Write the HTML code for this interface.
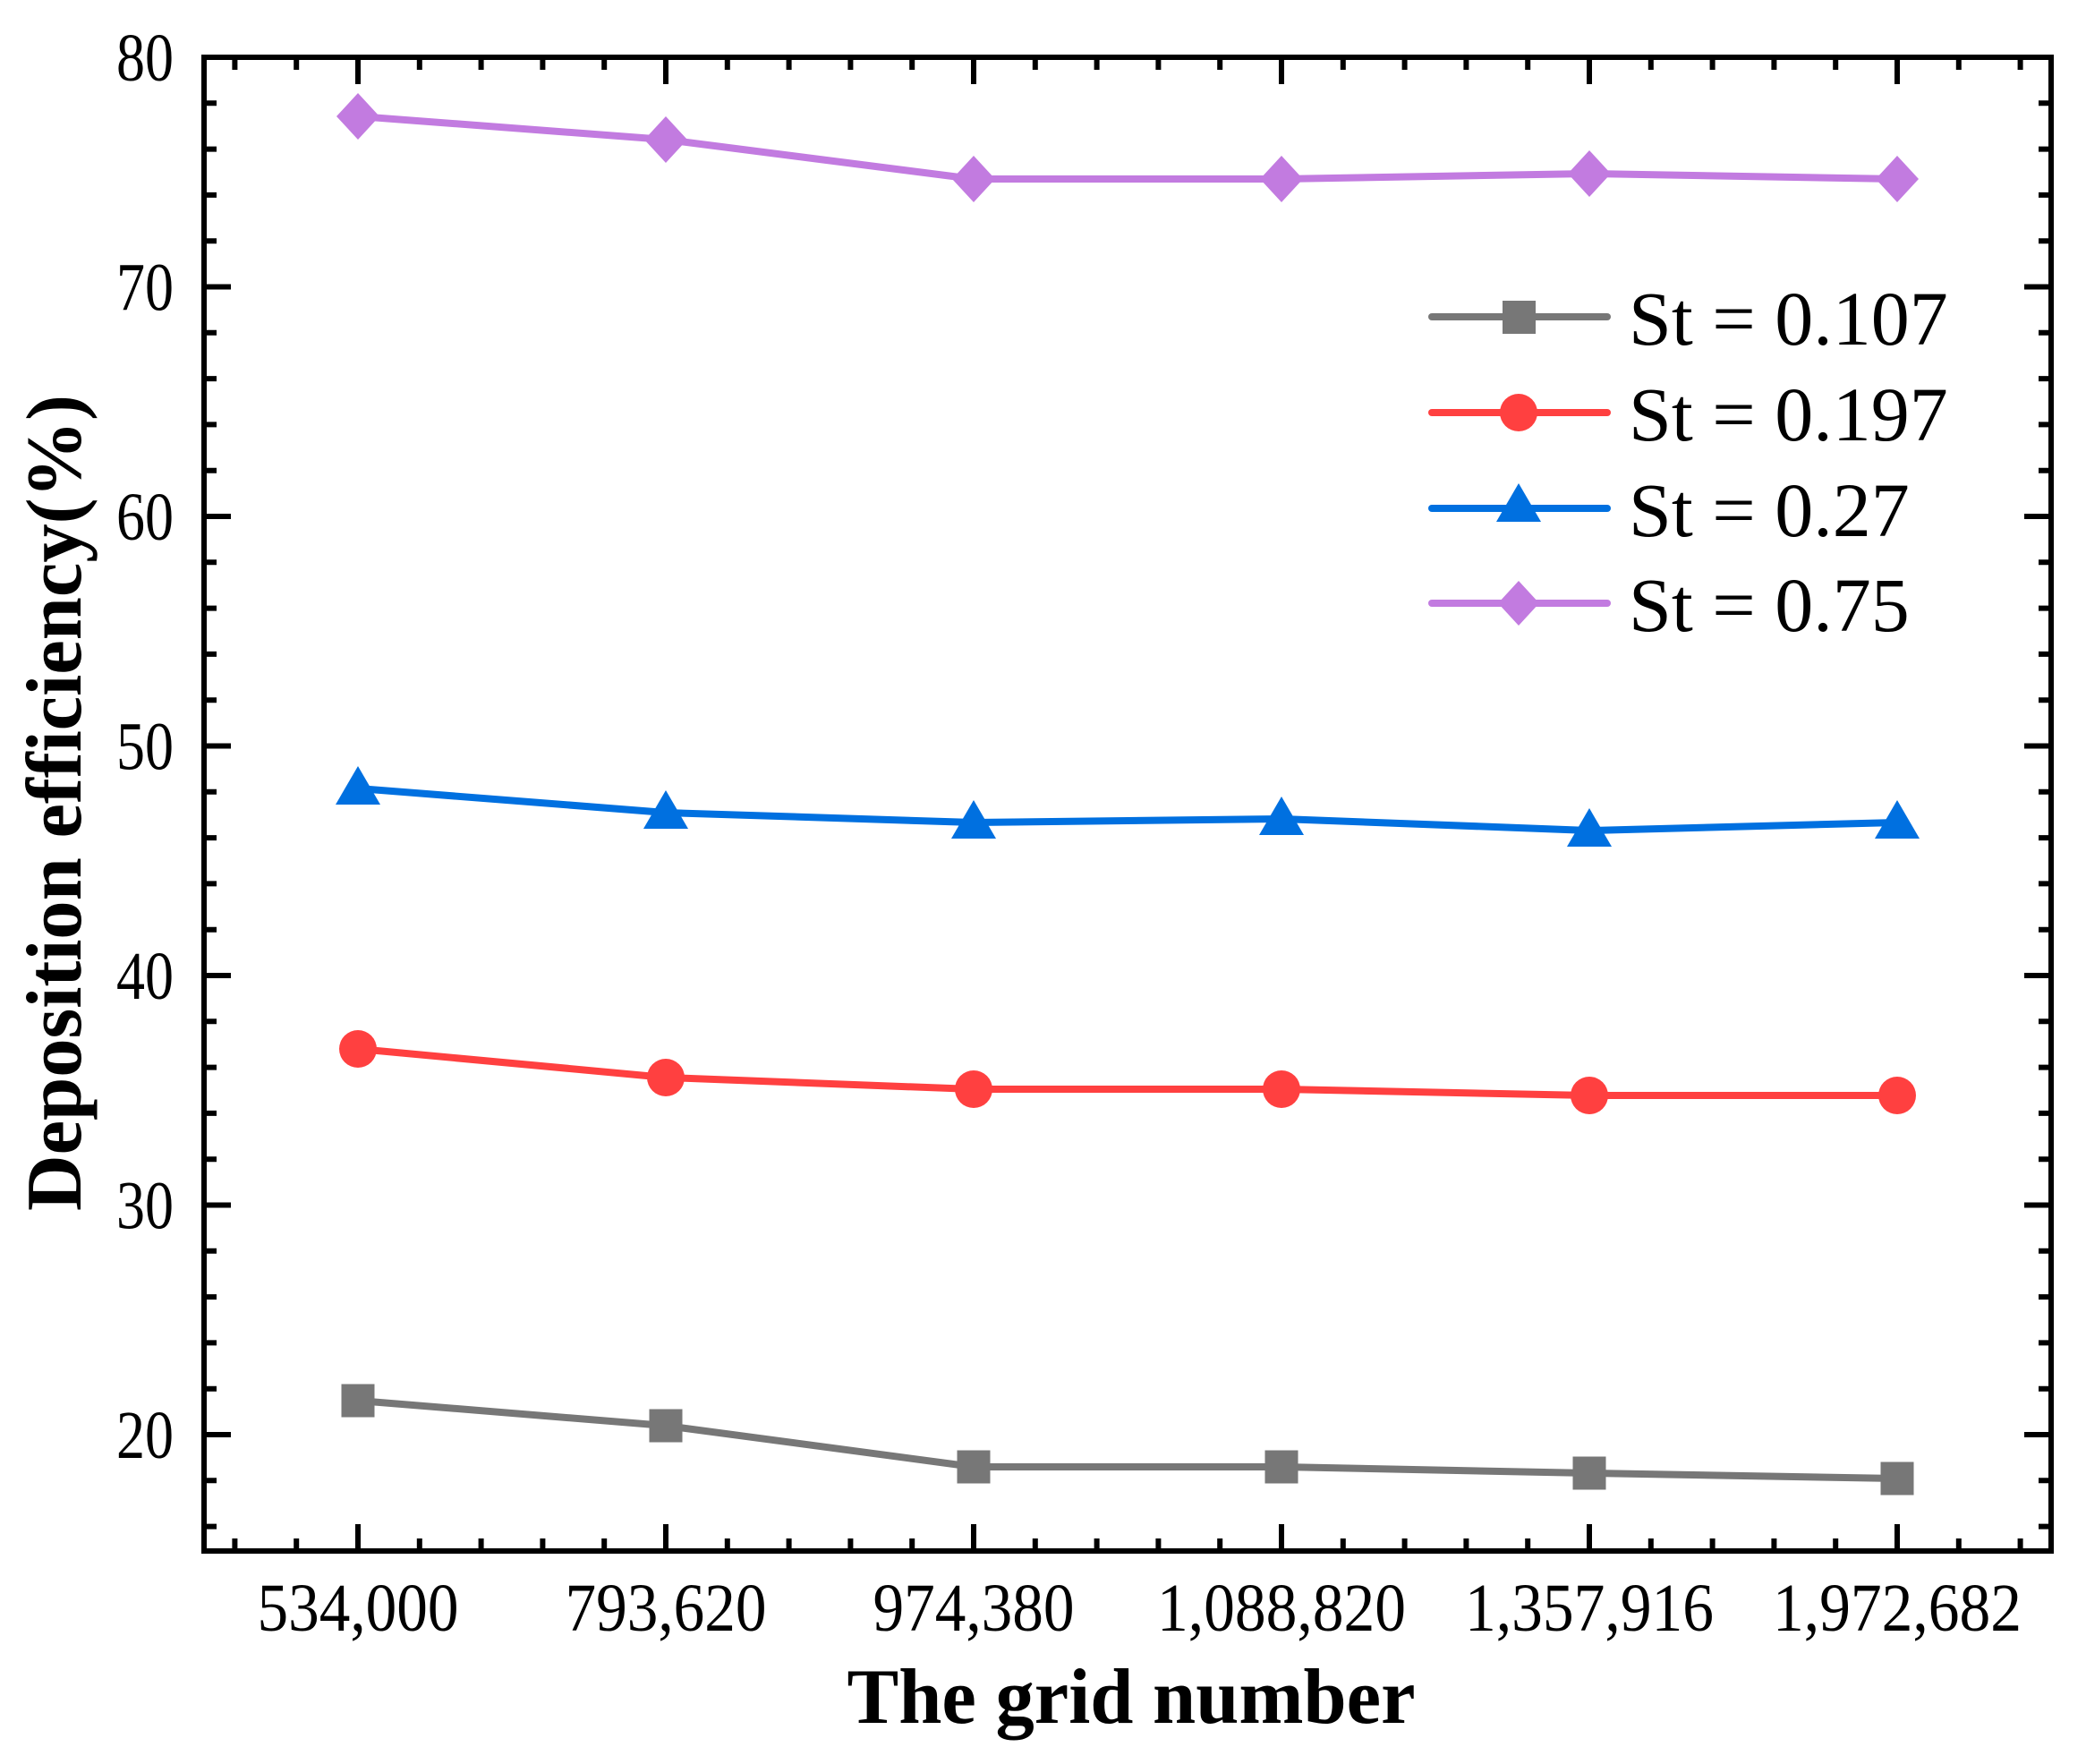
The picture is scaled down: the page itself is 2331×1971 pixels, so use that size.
<!DOCTYPE html>
<html><head><meta charset="utf-8"><style>html,body{margin:0;padding:0;background:#fff}svg{display:block}</style></head><body>
<svg width="2331" height="1971" viewBox="0 0 2331 1971" xmlns="http://www.w3.org/2000/svg" font-family="'Liberation Serif', serif">
<rect width="2331" height="1971" fill="#fff"/>
<g stroke="#000" stroke-width="6" fill="none">
<path d="M228 64h30M228 320.5h30M228 577h30M228 833.5h30M228 1090h30M228 1346.5h30M228 1603h30
M2292 64h-30M2292 320.5h-30M2292 577h-30M2292 833.5h-30M2292 1090h-30M2292 1346.5h-30M2292 1603h-30"/>
<path d="M228 115.3h14M228 166.6h14M228 217.9h14M228 269.2h14M228 371.8h14M228 423.1h14M228 474.4h14M228 525.7h14M228 628.3h14M228 679.6h14M228 730.9h14M228 782.2h14M228 884.8h14M228 936.1h14M228 987.4h14M228 1038.7h14M228 1141.3h14M228 1192.6h14M228 1243.9h14M228 1295.2h14M228 1397.8h14M228 1449.1h14M228 1500.4h14M228 1551.7h14M228 1654.3h14M228 1705.6h14
M2292 115.3h-14M2292 166.6h-14M2292 217.9h-14M2292 269.2h-14M2292 371.8h-14M2292 423.1h-14M2292 474.4h-14M2292 525.7h-14M2292 628.3h-14M2292 679.6h-14M2292 730.9h-14M2292 782.2h-14M2292 884.8h-14M2292 936.1h-14M2292 987.4h-14M2292 1038.7h-14M2292 1141.3h-14M2292 1192.6h-14M2292 1243.9h-14M2292 1295.2h-14M2292 1397.8h-14M2292 1449.1h-14M2292 1500.4h-14M2292 1551.7h-14M2292 1654.3h-14M2292 1705.6h-14"/>
<path d="M400 1733v-30M744 1733v-30M1088 1733v-30M1432 1733v-30M1776 1733v-30M2120 1733v-30
M400 64v30M744 64v30M1088 64v30M1432 64v30M1776 64v30M2120 64v30"/>
<path d="M262.4 1733v-14M331.2 1733v-14M468.8 1733v-14M537.6 1733v-14M606.4 1733v-14M675.2 1733v-14M812.8 1733v-14M881.6 1733v-14M950.4 1733v-14M1019.2 1733v-14M1156.8 1733v-14M1225.6 1733v-14M1294.4 1733v-14M1363.2 1733v-14M1500.8 1733v-14M1569.6 1733v-14M1638.4 1733v-14M1707.2 1733v-14M1844.8 1733v-14M1913.6 1733v-14M1982.4 1733v-14M2051.2 1733v-14M2188.8 1733v-14M2257.6 1733v-14
M262.4 64v14M331.2 64v14M468.8 64v14M537.6 64v14M606.4 64v14M675.2 64v14M812.8 64v14M881.6 64v14M950.4 64v14M1019.2 64v14M1156.8 64v14M1225.6 64v14M1294.4 64v14M1363.2 64v14M1500.8 64v14M1569.6 64v14M1638.4 64v14M1707.2 64v14M1844.8 64v14M1913.6 64v14M1982.4 64v14M2051.2 64v14M2188.8 64v14M2257.6 64v14"/>
<rect x="228" y="64" width="2064" height="1669"/>
</g>
<g font-size="76" text-anchor="end" fill="#000">
<text x="194" y="90" textLength="64" lengthAdjust="spacingAndGlyphs">80</text><text x="194" y="346.5" textLength="64" lengthAdjust="spacingAndGlyphs">70</text><text x="194" y="603" textLength="64" lengthAdjust="spacingAndGlyphs">60</text><text x="194" y="859.5" textLength="64" lengthAdjust="spacingAndGlyphs">50</text><text x="194" y="1116" textLength="64" lengthAdjust="spacingAndGlyphs">40</text><text x="194" y="1372.5" textLength="64" lengthAdjust="spacingAndGlyphs">30</text><text x="194" y="1629" textLength="64" lengthAdjust="spacingAndGlyphs">20</text>
</g>
<g font-size="76" text-anchor="middle" fill="#000">
<text x="400" y="1822" textLength="225" lengthAdjust="spacingAndGlyphs">534,000</text><text x="744" y="1822" textLength="225" lengthAdjust="spacingAndGlyphs">793,620</text><text x="1088" y="1822" textLength="225" lengthAdjust="spacingAndGlyphs">974,380</text><text x="1432" y="1822" textLength="278" lengthAdjust="spacingAndGlyphs">1,088,820</text><text x="1776" y="1822" textLength="278" lengthAdjust="spacingAndGlyphs">1,357,916</text><text x="2120" y="1822" textLength="278" lengthAdjust="spacingAndGlyphs">1,972,682</text>
</g>
<text x="1264" y="1925" font-size="88" font-weight="bold" text-anchor="middle" textLength="635" lengthAdjust="spacingAndGlyphs">The grid number</text>
<text transform="translate(90,897) rotate(-90)" font-size="88" font-weight="bold" text-anchor="middle" textLength="912" lengthAdjust="spacingAndGlyphs">Deposition efficiency(%)</text>
<g fill="none" stroke-width="8" stroke-linejoin="round">
<polyline stroke="#777777" points="400,1565 744,1593 1088,1639 1432,1639 1776,1646 2120,1652"/>
<polyline stroke="#ff4040" points="400,1172 744,1204 1088,1217 1432,1217 1776,1224 2120,1224"/>
<polyline stroke="#0070e0" points="400,881 744,908 1088,919 1432,915 1776,928 2120,919"/>
<polyline stroke="#c27be0" points="400,130 744,156 1088,200 1432,200 1776,194 2120,200"/>
</g>
<g fill="#777777">
<rect x="381.5" y="1546.5" width="37" height="37"/><rect x="725.5" y="1574.5" width="37" height="37"/><rect x="1069.5" y="1620.5" width="37" height="37"/><rect x="1413.5" y="1620.5" width="37" height="37"/><rect x="1757.5" y="1627.5" width="37" height="37"/><rect x="2101.5" y="1633.5" width="37" height="37"/>
</g>
<g fill="#ff4040">
<circle cx="400" cy="1172" r="21"/><circle cx="744" cy="1204" r="21"/><circle cx="1088" cy="1217" r="21"/><circle cx="1432" cy="1217" r="21"/><circle cx="1776" cy="1224" r="21"/><circle cx="2120" cy="1224" r="21"/>
</g>
<g fill="#0070e0">
<path d="M400 856l25 43h-50z"/><path d="M744 883l25 43h-50z"/><path d="M1088 894l25 43h-50z"/><path d="M1432 890l25 43h-50z"/><path d="M1776 903l25 43h-50z"/><path d="M2120 894l25 43h-50z"/>
</g>
<g fill="#c27be0">
<path d="M400 104l24 26-24 26-24-26z"/><path d="M744 130l24 26-24 26-24-26z"/><path d="M1088 174l24 26-24 26-24-26z"/><path d="M1432 174l24 26-24 26-24-26z"/><path d="M1776 168l24 26-24 26-24-26z"/><path d="M2120 174l24 26-24 26-24-26z"/>
</g>
<g stroke-width="8" stroke-linecap="round">
<line x1="1600" y1="354" x2="1796" y2="354" stroke="#777777"/>
<line x1="1600" y1="461" x2="1796" y2="461" stroke="#ff4040"/>
<line x1="1600" y1="568" x2="1796" y2="568" stroke="#0070e0"/>
<line x1="1600" y1="674" x2="1796" y2="674" stroke="#c27be0"/>
</g>
<rect x="1679" y="336" width="37" height="37" fill="#777777"/>
<circle cx="1697" cy="461" r="21" fill="#ff4040"/>
<path d="M1697 540l25 43h-50z" fill="#0070e0"/>
<path d="M1697 649l23 25-23 25-23-25z" fill="#c27be0"/>
<g font-size="86" fill="#000">
<text x="1820" y="385">St = 0.107</text>
<text x="1820" y="492">St = 0.197</text>
<text x="1820" y="599">St = 0.27</text>
<text x="1820" y="705">St = 0.75</text>
</g>
</svg>
</body></html>
